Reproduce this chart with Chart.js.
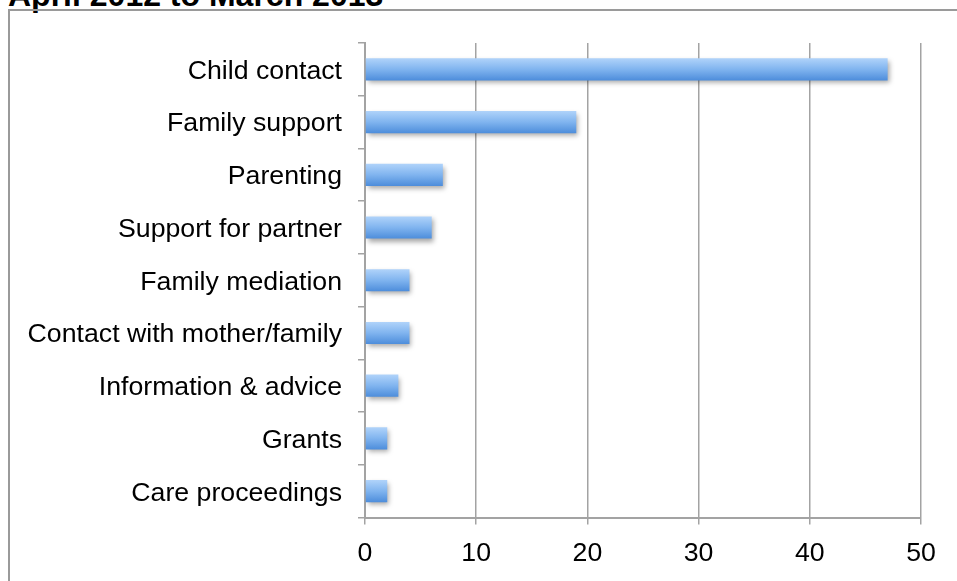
<!DOCTYPE html>
<html>
<head>
<meta charset="utf-8">
<title>April 2012 to March 2013</title>
<script src="https://cdn.jsdelivr.net/npm/chart.js@4"></script>
<style>
    html, body { margin: 0; padding: 0; width: 957px; height: 581px; overflow: hidden; background: #fff; }
    #title { position: absolute; left: 8px; top: -21px; font: bold 32px "Liberation Sans", Arial, sans-serif; line-height: 32px; white-space: nowrap; color: #000; }
    #frame { position: absolute; left: 8px; top: 9px; width: 1100px; height: 800px; border: 2px solid #9a9a9a; }
    #chart { position: absolute; left: 0; top: 0; }
</style>
</head>
<body>
<div id="title">April 2012 to March 2013</div>
<div id="frame"></div>
<canvas id="chart" width="957" height="581"></canvas>
<script>
// Tipos de apoio solicitados
const categories = [
    'Child contact',
    'Family support',
    'Parenting',
    'Support for partner',
    'Family mediation',
    'Contact with mother/family',
    'Information & advice',
    'Grants',
    'Care proceedings'
];
const counts = [47, 19, 7, 6, 4, 4, 3, 2, 2];
const axisMax = 50;
const axisStep = 10;

const barShare = 0.42;
const lineGray = '#a3a3a3';
const labelFont = { family: '"Liberation Sans", Arial, sans-serif', size: 26.7 };

// gradiente vertical em cada barra (claro em cima, escuro em baixo)
function barGradient(context) {
    const chart = context.chart;
    if (!chart.chartArea) return '#7fb3ee';
    const yScale = chart.scales.y;
    const mid = yScale.getPixelForValue(context.dataIndex);
    const half = yScale.height / categories.length * barShare / 2;
    const g = chart.ctx.createLinearGradient(0, mid - half, 0, mid + half);
    g.addColorStop(0, '#b0d3fa');
    g.addColorStop(0.5, '#80b4ef');
    g.addColorStop(1, '#4d8ddb');
    return g;
}

// sombra suave por baixo das barras
const barShadow = {
    id: 'barShadow',
    beforeDatasetsDraw(chart) {
        const c = chart.ctx;
        c.save();
        c.shadowColor = 'rgba(0, 0, 0, 0.35)';
        c.shadowBlur = 5;
        c.shadowOffsetX = 2;
        c.shadowOffsetY = 3;
    },
    afterDatasetsDraw(chart) {
        chart.ctx.restore();
    }
};

new Chart(document.getElementById('chart').getContext('2d'), {
    type: 'bar',
    data: {
        labels: categories,
        datasets: [{
            data: counts,
            backgroundColor: barGradient,
            borderWidth: 0,
            categoryPercentage: 1,
            barPercentage: barShare
        }]
    },
    options: {
        indexAxis: 'y',
        responsive: false,
        animation: false,
        layout: { padding: { top: 43, right: 36, left: 0, bottom: 0 } },
        plugins: {
            legend: { display: false },
            tooltip: { enabled: false }
        },
        scales: {
            x: {
                min: 0,
                max: axisMax,
                ticks: { stepSize: axisStep, color: '#000', font: labelFont, padding: 13 },
                grid: { color: lineGray, lineWidth: 1.5, tickLength: 7 },
                border: { color: lineGray, width: 2 },
                afterFit(scale) { scale.height = 63.5; }
            },
            y: {
                ticks: { color: '#000', font: labelFont, padding: 16, labelOffset: 2 },
                grid: { drawOnChartArea: false, color: lineGray, lineWidth: 1.5, tickLength: 7, offset: true },
                border: { color: lineGray, width: 2 },
                afterFit(scale) { scale.width = 365; }
            }
        }
    },
    plugins: [barShadow]
});
</script>
</body>
</html>
